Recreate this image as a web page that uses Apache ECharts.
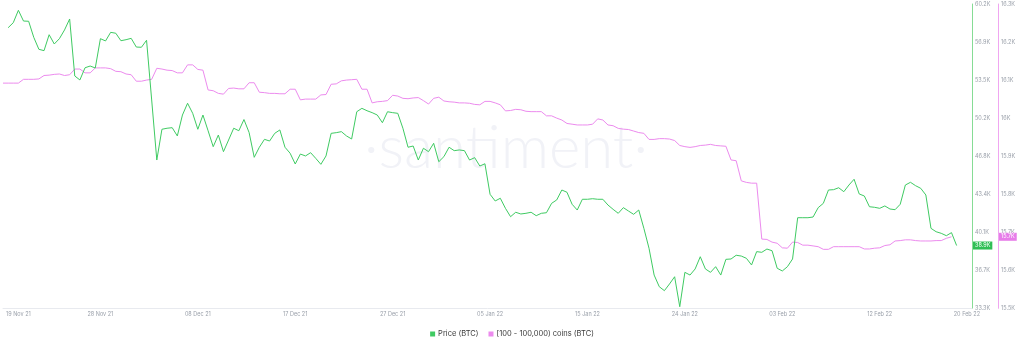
<!DOCTYPE html>
<html>
<head>
<meta charset="utf-8">
<script src="https://cdn.jsdelivr.net/npm/echarts@6/dist/echarts.min.js"></script>
<style>
html,body{margin:0;padding:0;background:#fff;}
#chart{width:1024px;height:347px;}
</style>
</head>
<body>
<div id="chart"></div>
<script>
// 12-hour points starting 19 Nov 2021 00:00 UTC
const startTime = Date.UTC(2021, 10, 19, 0, 0);
const categoryCount = 190;

// x tick labels keyed by category time
const tickKeys = ['2021-11-20 12:00','2021-11-28 12:00','2021-12-08 00:00','2021-12-17 12:00','2021-12-27 00:00','2022-01-05 12:00','2022-01-15 00:00','2022-01-24 12:00','2022-02-03 00:00','2022-02-12 12:00','2022-02-21 00:00'];
const tickLabels = ['19 Nov 21','28 Nov 21','08 Dec 21','17 Dec 21','27 Dec 21','05 Jan 22','15 Jan 22','24 Jan 22','03 Feb 22','12 Feb 22','20 Feb 22'];

// Price (BTC), USD
const priceBTC = [null,
58150,58590,59690,58740,58720,57300,56240,56120,57530,56710,
57180,57950,58920,53880,53530,54610,54760,54590,57180,56980,
57740,57660,57000,57090,57210,56440,56420,57040,51760,46450,
49170,49260,49310,48580,50430,51470,50580,49170,50430,49040,
47630,48660,47190,48220,49260,49040,50030,48880,46690,47580,
48280,48130,48810,49110,47580,47050,46100,46980,46810,47100,
46600,46070,46810,48810,48870,48960,48580,48310,50720,51020,
50810,50640,50430,49750,50720,50640,50580,49260,47580,47690,
46450,47490,47190,47930,46300,46750,47580,47280,47340,47280,
46450,46660,45920,46120,43420,42830,43070,42180,41440,41830,
41680,41740,41830,41530,41740,41790,42620,42920,43800,43600,
42540,42030,42980,42980,43030,42980,42980,42470,42090,41740,
42240,41940,41650,42030,40410,38650,36280,35250,34900,35490,
36130,33480,36520,36280,36820,37900,36820,36520,37020,36280,
37670,37700,38030,37960,37760,37170,38350,38290,38580,38430,
36880,36640,37020,37700,41350,41350,41350,41410,42240,42620,
43800,43830,44000,43650,44240,44750,43450,43270,42320,42270,
42180,42390,42120,42060,42540,44240,44480,44180,43950,43360,
40410,40110,39970,39760,40030,38890];

// [100 - 100,000) coins (BTC) supply, thousands of BTC scale values
const holders100to100k = [
16092,16092,16092,16092,16102,16102,16102,16103,16112,16113,
16115,16116,16112,16114,16129,16129,16119,16119,16132,16132,
16132,16130,16123,16122,16116,16114,16097,16097,16100,16102,
16131,16129,16126,16125,16119,16119,16140,16140,16128,16126,
16074,16072,16065,16063,16078,16079,16077,16077,16093,16093,
16068,16067,16065,16065,16064,16064,16076,16076,16048,16050,
16050,16050,16061,16062,16089,16090,16098,16100,16101,16102,
16076,16076,16040,16043,16044,16046,16060,16058,16052,16051,
16053,16054,16046,16037,16052,16055,16045,16043,16042,16040,
16040,16039,16036,16035,16044,16044,16040,16035,16019,16020,
16023,16022,16018,16017,16017,16017,16006,16006,16000,15995,
15986,15984,15982,15982,15982,15984,15998,15995,15982,15980,
15973,15971,15970,15966,15962,15960,15944,15944,15946,15946,
15945,15941,15928,15925,15923,15925,15928,15929,15931,15928,
15927,15926,15890,15888,15835,15831,15829,15829,15682,15681,
15674,15671,15659,15658,15674,15673,15666,15666,15664,15662,
15655,15655,15662,15662,15662,15662,15662,15662,15656,15656,
15658,15659,15665,15667,15677,15678,15680,15680,15678,15677,
15677,15677,15678,15678,15684,15688,null];

// y axis ranges
const priceMin = 33340, priceMax = 60246;
const coinsMin = 15500, coinsMax = 16300, coinsStep = 100;

const pad = n => String(n).padStart(2, '0');
const categories = [];
for (let i = 0; i < categoryCount; i++) {
  const d = new Date(startTime + i * 12 * 3600 * 1000);
  categories.push(d.getUTCFullYear() + '-' + pad(d.getUTCMonth() + 1) + '-' + pad(d.getUTCDate()) + ' ' + pad(d.getUTCHours()) + ':00');
}
const tickMap = {};
tickKeys.forEach((k, i) => { tickMap[k] = tickLabels[i]; });

const fmtK = v => { let s = (v / 1000).toFixed(1); if (s.endsWith('.0')) s = s.slice(0, -2); return s + 'K'; };
const lastVal = arr => { for (let i = arr.length - 1; i >= 0; i--) if (arr[i] != null) return arr[i]; return null; };

const GREEN = '#3fca62', PINK = '#ec8bee';
const FONT = 'Inter, "Noto Sans", sans-serif';

const chart = echarts.init(document.getElementById('chart'), null, {renderer: 'canvas'});
chart.setOption({
  animation: false,
  backgroundColor: '#ffffff',
  textStyle: {fontFamily: FONT},
  graphic: [{
    type: 'text', x: 506, y: 149, z: 0, silent: true,
    style: {text: '·santiment·', fontSize: 60, fontWeight: 300, fontFamily: 'Lato, sans-serif', fill: '#f1f2f7', align: 'center', verticalAlign: 'middle'}
  }],
  grid: {left: 0, top: 4, right: 52, bottom: 38.7, containLabel: false},
  legend: {
    top: 330, left: 'center', itemWidth: 5, itemHeight: 5, itemGap: 10, padding: 0,
    icon: 'rect',
    textStyle: {fontSize: 7.5, color: '#3a3a3a', fontFamily: FONT, padding: [0, 0, 0, -2]},
    data: ['Price (BTC)', '[100 - 100,000) coins (BTC)']
  },
  xAxis: {
    type: 'category', boundaryGap: false, data: categories,
    axisLine: {lineStyle: {color: '#e8eaef', width: 1}},
    axisTick: {show: false},
    splitLine: {show: false},
    axisLabel: {interval: 0, fontSize: 5.5, color: '#9aa0aa', margin: 3, formatter: v => tickMap[v] || ''}
  },
  yAxis: [{
    type: 'value', position: 'right', offset: 0,
    min: priceMin, max: priceMax, interval: (priceMax - priceMin) / 8,
    axisLine: {show: true, lineStyle: {color: '#86dc95', width: 1}},
    axisTick: {show: false}, splitLine: {show: false},
    axisLabel: {fontSize: 5.5, color: '#9aa0aa', margin: 3, formatter: fmtK},
    axisPointer: {
      show: true, status: 'show', value: lastVal(priceBTC), triggerTooltip: false, snap: false,
      lineStyle: {color: 'rgba(0,0,0,0)', width: 0},
      label: {show: true, formatter: p => fmtK(p.value), backgroundColor: '#2fbf55', color: '#fff', fontSize: 5.5, padding: [1, 2], margin: 1, borderRadius: 0, fontFamily: FONT}
    }
  }, {
    type: 'value', position: 'right', offset: 26,
    min: coinsMin, max: coinsMax, interval: coinsStep,
    axisLine: {show: true, lineStyle: {color: '#f0a6f1', width: 1}},
    axisTick: {show: false}, splitLine: {show: false},
    axisLabel: {fontSize: 5.5, color: '#9aa0aa', margin: 3, formatter: fmtK},
    axisPointer: {
      show: true, status: 'show', value: lastVal(holders100to100k), triggerTooltip: false, snap: false,
      lineStyle: {color: 'rgba(0,0,0,0)', width: 0},
      label: {show: true, formatter: p => fmtK(p.value), backgroundColor: '#e77de9', color: '#fff', fontSize: 5.5, padding: [1, 2], margin: 1, borderRadius: 0, fontFamily: FONT}
    }
  }],
  series: [{
    name: 'Price (BTC)', type: 'line', yAxisIndex: 0, data: priceBTC,
    showSymbol: false, symbol: 'none', color: GREEN, lineStyle: {color: GREEN, width: 1}, z: 3
  }, {
    name: '[100 - 100,000) coins (BTC)', type: 'line', yAxisIndex: 1, data: holders100to100k,
    showSymbol: false, symbol: 'none', color: PINK, lineStyle: {color: PINK, width: 1}, z: 2
  }]
});
</script>
</body>
</html>
